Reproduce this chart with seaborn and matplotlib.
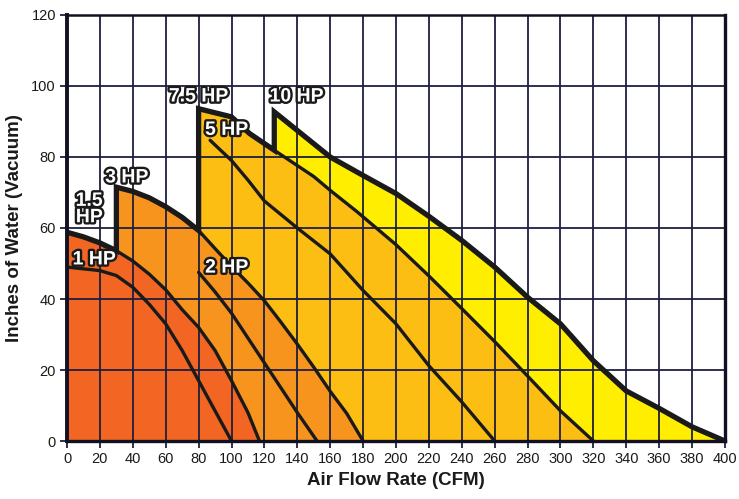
import numpy as np
import pandas as pd
import seaborn as sns
import matplotlib.pyplot as plt
import matplotlib.patheffects as pe

# Vacuum curves: (CFM, inches of water)
hp1_x = [0, 20, 30, 40, 50, 60, 70, 80, 90, 100]
hp1_y = [49, 48, 46.6, 43.3, 38.5, 33, 25.5, 17, 8.5, 0]

hp15_x = [0, 10, 20, 30, 40, 50, 60, 70, 80, 90, 100, 110, 117]
hp15_y = [58.8, 57.5, 55.8, 53.6, 50.7, 47, 42.6, 37, 32, 25.5, 17, 8, 0]

hp2_x = [80, 90, 100, 120, 140, 152]
hp2_y = [47.5, 42, 36, 22, 8, 0]

hp3_x = [30, 40, 50, 60, 70, 80, 90, 100, 110, 120, 130, 140, 150, 160, 170, 180]
hp3_y = [71.5, 70.3, 68.5, 66, 63, 59.3, 54.2, 49.2, 44.5, 39.5, 33.5, 27.3, 20.8, 14, 7.8, 0]

hp5_x = [87, 100, 110, 120, 140, 160, 180, 200, 220, 240, 260]
hp5_y = [84.7, 79, 73.5, 67.6, 60, 52.7, 42.4, 33, 21.2, 11, 0]

hp75_x = [80, 100, 111, 126, 150, 160, 176, 200, 220, 240, 260, 280, 300, 320]
hp75_y = [93.6, 91.3, 86.6, 81.9, 74.5, 70.6, 64.7, 55.3, 46.5, 37.3, 28, 18.3, 8.5, 0]

hp10_x = [126, 160, 180, 200, 220, 240, 260, 280, 300, 320, 340, 360, 380, 400]
hp10_y = [92.7, 80, 74.8, 69.7, 63.3, 56.5, 49, 40.5, 33, 22.6, 14.1, 9.2, 4, 0]

hp_labels = ['1 HP', '1.5\nHP', '2 HP', '3 HP', '5 HP', '7.5 HP', '10 HP']
label_x = [16.5, 13.5, 97, 36.3, 97, 80, 139.5]
label_y = [51, 65.2, 48.7, 74.1, 87.5, 96.9, 96.9]

x_ticks = list(range(0, 401, 20))
y_ticks = list(range(0, 121, 20))

RED = '#F26522'
ORANGE = '#F7941D'
AMBER = '#FDBE14'
YELLOW = '#FFEE00'
INK = '#1A1A1A'
GRID = '#1C1F3F'


def main():
    sns.set_theme(style="white")
    plt.rcParams['font.family'] = ['Liberation Sans', 'DejaVu Sans']

    curves = [
        ('10 HP', hp10_x, hp10_y, YELLOW),
        ('7.5 HP', hp75_x, hp75_y, AMBER),
        ('5 HP', hp5_x, hp5_y, AMBER),
        ('3 HP', hp3_x, hp3_y, ORANGE),
        ('2 HP', hp2_x, hp2_y, ORANGE),
        ('1.5 HP', hp15_x, hp15_y, RED),
        ('1 HP', hp1_x, hp1_y, RED),
    ]

    fig = plt.figure(figsize=(7.39, 4.99), dpi=100)
    ax = fig.add_axes([0.0907, 0.1162, 0.8903, 0.8538])

    # fills, biggest motor first so the smaller ones sit on top
    for name, xs, ys, col in curves:
        ax.fill_between(xs, 0, ys, color=col, linewidth=0, zorder=1)

    # thin outline for every curve
    frames = [pd.DataFrame({'cfm': xs, 'vac': ys, 'hp': name}) for name, xs, ys, _ in curves]
    df = pd.concat(frames, ignore_index=True)
    sns.lineplot(data=df, x='cfm', y='vac', units='hp', estimator=None, sort=False,
                 color=INK, linewidth=2.4, ax=ax, zorder=3)

    # thick outer envelope made from the curve pieces
    def piece(xs, ys, lo, hi):
        return [(x, y) for x, y in zip(xs, ys) if lo <= x <= hi]

    env = (piece(hp15_x, hp15_y, 0, 30) + piece(hp3_x, hp3_y, 30, 80)
           + piece(hp75_x, hp75_y, 80, 126) + piece(hp10_x, hp10_y, 126, 400))
    env = np.array(env)
    ax.plot(env[:, 0], env[:, 1], color=INK, linewidth=3.8, solid_joinstyle='miter',
            solid_capstyle='butt', zorder=4)

    # motor labels
    for txt, lx, ly in zip(hp_labels, label_x, label_y):
        ax.text(lx, ly, txt, ha='center', va='center', fontsize=14, fontweight='bold',
                color='white', linespacing=0.95, zorder=6,
                path_effects=[pe.withStroke(linewidth=3.4, foreground=INK)])

    ax.set_xlim(0, 400)
    ax.set_ylim(0, 120)
    ax.set_xticks(x_ticks)
    ax.set_yticks(y_ticks)
    ax.grid(True, color=GRID, linewidth=1.3)
    ax.set_axisbelow('line')
    ax.tick_params(axis='both', which='major', direction='out', length=5, width=1.3,
                   color=GRID, labelsize=10.5, labelcolor=INK, pad=3,
                   bottom=True, left=True)

    for side, w in [('left', 2.8), ('bottom', 2.4), ('right', 2.4), ('top', 1.8)]:
        ax.spines[side].set_visible(True)
        ax.spines[side].set_color('#111122')
        ax.spines[side].set_linewidth(w)
        ax.spines[side].set_zorder(5)

    ax.set_xlabel('Air Flow Rate (CFM)', fontsize=13.5, fontweight='bold', color=INK, labelpad=4)
    ax.set_ylabel('Inches of Water (Vacuum)', fontsize=13.5, fontweight='bold', color=INK, labelpad=6)

    fig.savefig('out.png', dpi=100)


if __name__ == "__main__":
    main()
